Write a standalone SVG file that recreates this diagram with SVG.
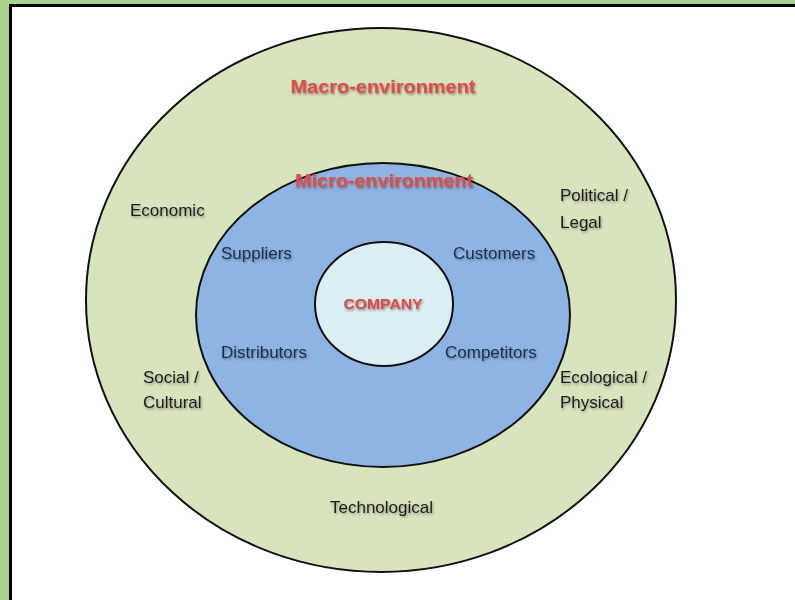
<svg xmlns="http://www.w3.org/2000/svg" width="795" height="600" viewBox="0 0 795 600">
<defs>
<filter id="sh" x="-20%" y="-40%" width="140%" height="180%">
<feDropShadow dx="1" dy="1.5" stdDeviation="1.2" flood-color="#000" flood-opacity="0.35"/>
</filter>
<filter id="shr" x="-20%" y="-40%" width="140%" height="180%">
<feDropShadow dx="1" dy="1.5" stdDeviation="1" flood-color="#6b2a28" flood-opacity="0.6"/>
</filter>
</defs>
<style>
.ring{stroke:#111;stroke-width:2}
.lbl{font-family:"Liberation Sans",Arial,sans-serif;font-size:17px;fill:#1e1e1e;filter:url(#sh)}
.inn{font-family:"Liberation Sans",Arial,sans-serif;font-size:17px;fill:#1c2f52;filter:url(#sh)}
.ttl{font-family:"Liberation Sans",Arial,sans-serif;font-size:18px;font-weight:bold;fill:#d9504c;filter:url(#shr);text-anchor:middle}
</style>
<rect x="0" y="0" width="795" height="600" fill="#ffffff"/>
<rect x="0" y="0" width="795" height="5" fill="#a9d18e"/>
<rect x="0" y="0" width="9" height="600" fill="#a9d18e"/>
<rect x="9" y="4" width="786" height="3" fill="#000"/>
<rect x="9" y="4" width="3" height="596" fill="#000"/>
<g id="macro">
<ellipse class="ring" cx="381" cy="300" rx="295" ry="272" fill="#d7e4bd"/>
<text class="ttl" x="383" y="93" textLength="185" lengthAdjust="spacingAndGlyphs">Macro-environment</text>
<text class="lbl" x="130" y="216">Economic</text>
<text class="lbl" x="560" y="201">Political /</text>
<text class="lbl" x="560" y="228">Legal</text>
<text class="lbl" x="143" y="383">Social /</text>
<text class="lbl" x="143" y="408">Cultural</text>
<text class="lbl" x="560" y="383">Ecological /</text>
<text class="lbl" x="560" y="408">Physical</text>
<text class="lbl" x="330" y="513">Technological</text>
</g>
<g id="micro">
<ellipse class="ring" cx="383" cy="315" rx="187" ry="152" fill="#8eb4e3"/>
<text class="ttl" x="384" y="187" textLength="178" lengthAdjust="spacingAndGlyphs">Micro-environment</text>
<text class="inn" x="221" y="259">Suppliers</text>
<text class="inn" x="453" y="259">Customers</text>
<text class="inn" x="221" y="358">Distributors</text>
<text class="inn" x="445" y="358">Competitors</text>
</g>
<g id="company">
<ellipse class="ring" cx="384" cy="304" rx="69" ry="62" fill="#dbeef4"/>
<text class="ttl" x="383" y="309" style="font-size:14px" textLength="79" lengthAdjust="spacingAndGlyphs">COMPANY</text>
</g>
<g id="connectors"/>
</svg>
